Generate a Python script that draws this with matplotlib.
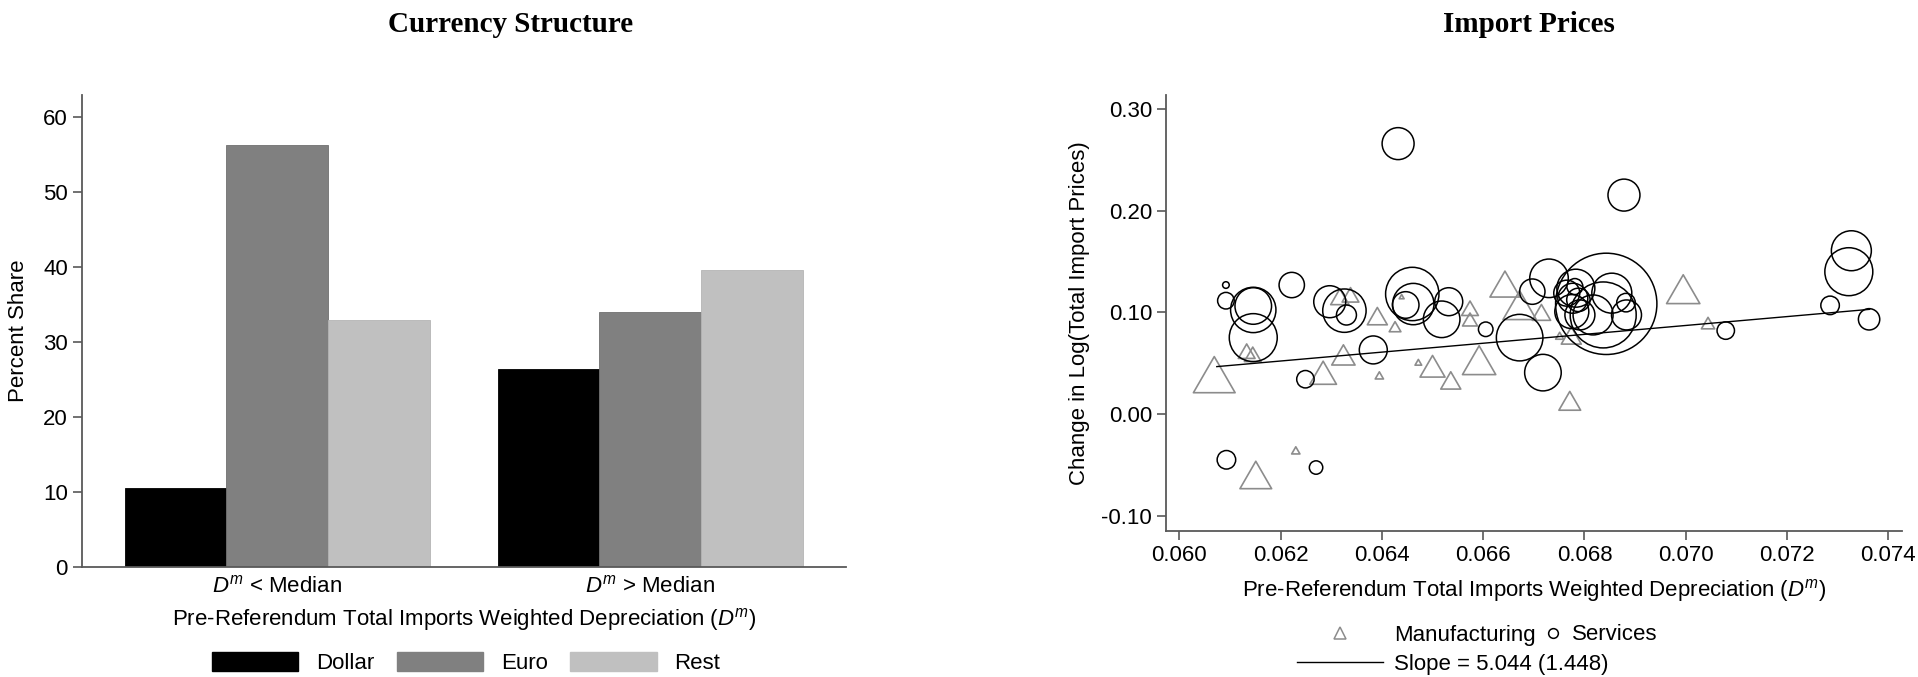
import matplotlib
matplotlib.use("Agg")
import matplotlib.pyplot as plt
from matplotlib.lines import Line2D
from matplotlib.patches import Patch
from matplotlib.path import Path
from matplotlib.ticker import FormatStrFormatter
import numpy as np

plt.rcParams['font.family'] = ['Liberation Sans', 'DejaVu Sans']
plt.rcParams['mathtext.fontset'] = 'custom'
plt.rcParams['mathtext.rm'] = 'Liberation Sans'
plt.rcParams['mathtext.it'] = 'Liberation Sans:italic'
plt.rcParams['axes.unicode_minus'] = False

# ---- left panel data: currency shares (percent)
groups = [r"$D^{m}$ < Median", r"$D^{m}$ > Median"]
currencies = ["Dollar", "Euro", "Rest"]
dollar_share = [10.6, 26.4]
euro_share = [56.3, 34.0]
rest_share = [33.0, 39.6]

# ---- right panel data: manufacturing (triangles)
manu_x = [0.06069, 0.06151, 0.06133, 0.06145, 0.06230, 0.06284, 0.06324, 0.06317,
          0.06338, 0.06391, 0.06426, 0.06395, 0.06439, 0.06472, 0.06500, 0.06536,
          0.06592, 0.06574, 0.06574, 0.06643, 0.06672, 0.06715, 0.06771, 0.06995,
          0.07044, 0.06751, 0.06774]
manu_y = [0.033, -0.0642, 0.0596, 0.0565, -0.0367, 0.037, 0.055, 0.1129,
          0.115, 0.0936, 0.0844, 0.037, 0.1149, 0.0501, 0.0436, 0.0304,
          0.0484, 0.1018, 0.091, 0.1237, 0.1025, 0.0975, 0.0101, 0.1182,
          0.0877, 0.076, 0.0746]
manu_w = [4.35, 2.51, 0.70, 0.70, 0.17, 1.78, 1.36, 0.84,
          0.70, 1.0, 0.34, 0.17, 0.06, 0.11, 1.56, 1.0,
          2.77, 0.70, 0.56, 2.25, 2.77, 0.84, 1.18, 2.77,
          0.44, 0.16, 1.0]

# services (circles)
serv_x = [0.06432, 0.06092, 0.06092, 0.06146, 0.06146, 0.06146, 0.06222, 0.06093,
          0.06249, 0.06270, 0.06297, 0.06326, 0.06330, 0.06383, 0.06460, 0.06447,
          0.06462, 0.06532, 0.06518, 0.06605, 0.06672, 0.06718, 0.06697, 0.06730,
          0.06878, 0.07327, 0.07322, 0.07285, 0.07362, 0.07079,
          0.06843, 0.06837, 0.06854, 0.06783, 0.06781, 0.06777, 0.06775, 0.06791,
          0.06817, 0.06882, 0.06883, 0.06765, 0.06788]
serv_y = [0.266, 0.127, 0.1116, 0.1064, 0.1025, 0.0753, 0.127, -0.0448,
          0.0344, -0.0524, 0.1106, 0.1018, 0.0975, 0.0632, 0.1182, 0.1074,
          0.1083, 0.1106, 0.0933, 0.0835, 0.0753, 0.0409, 0.1205, 0.1336,
          0.2154, 0.1607, 0.1401, 0.1070, 0.0933, 0.0822,
          0.1085, 0.0976, 0.119, 0.1239, 0.1255, 0.114, 0.1009, 0.0976,
          0.0976, 0.1097, 0.0976, 0.119, 0.1124]
serv_w = [2.56, 0.11, 0.69, 3.35, 5.15, 5.76, 1.61, 0.86,
          0.76, 0.45, 2.56, 4.71, 1.0, 1.96, 7.13, 1.77,
          4.28, 1.96, 3.35, 0.53, 5.43, 3.35, 1.61, 3.72,
          2.56, 4.0, 5.76, 0.86, 1.14, 0.76,
          25.7, 10.9, 4.0, 3.61, 0.64, 2.25, 2.89, 2.25,
          4.0, 0.86, 2.25, 1.69, 1.37]

# fitted line endpoints
fit_x = [0.06074, 0.07363]
fit_y = [0.0468, 0.1031]
slope_label = "Slope = 5.044 (1.448)"

W, H = 1918, 677
fig = plt.figure(figsize=(W / 100, H / 100), dpi=100)

spine_col = "#595959"
fs = 16

def style_axes(ax):
    for s in ["top", "right"]:
        ax.spines[s].set_visible(False)
    for s in ["left", "bottom"]:
        ax.spines[s].set_color(spine_col)
        ax.spines[s].set_linewidth(1.3)
    ax.tick_params(colors=spine_col, labelcolor="black", labelsize=fs,
                   length=6.5, width=1.2, direction="out")

# ---- left panel
ax1 = fig.add_axes([81.7 / W, 1 - 567 / H, (846 - 81.7) / W, (567 - 95) / H])
style_axes(ax1)
bw = 0.2727
xpos = np.arange(len(groups))
ax1.bar(xpos - bw, dollar_share, bw, color="#000000", edgecolor="#000000", lw=0.6)
ax1.bar(xpos, euro_share, bw, color="#808080", edgecolor="#707070", lw=0.6)
ax1.bar(xpos + bw, rest_share, bw, color="#c0c0c0", edgecolor="#b4b4b4", lw=0.6)
ax1.set_xlim(-0.524, 1.525)
ax1.set_ylim(0, 62.98)
ax1.set_yticks([0, 10, 20, 30, 40, 50, 60])
ax1.set_xticks(xpos)
ax1.set_xticklabels(groups)
ax1.tick_params(axis="x", length=0, pad=6)
ax1.set_ylabel("Percent Share", fontsize=fs, labelpad=10)
ax1.set_xlabel(r"Pre-Referendum Total Imports Weighted Depreciation ($D^{m}$)",
               fontsize=fs, labelpad=6)
ax1.legend(handles=[Patch(facecolor=c, edgecolor=c) for c in ["#000000", "#808080", "#c0c0c0"]],
           labels=currencies, ncol=3, frameon=False, fontsize=fs,
           handlelength=3.9, handleheight=0.9, handletextpad=0.8, columnspacing=1.0,
           loc="center", bbox_to_anchor=(466 / W, 1 - 663 / H),
           bbox_transform=fig.transFigure, borderpad=0, borderaxespad=0)

# ---- right panel
ax2 = fig.add_axes([1166 / W, 1 - 530.7 / H, (1902 - 1166) / W, (530.7 - 95) / H])
style_axes(ax2)
tri = Path([(0, 0.577), (-0.5, -0.289), (0.5, -0.289), (0, 0.577)],
           [Path.MOVETO, Path.LINETO, Path.LINETO, Path.CLOSEPOLY])
ax2.scatter(manu_x, manu_y, s=np.array(manu_w) * 276, marker=tri,
            facecolors="none", edgecolors="#8c8c8c", linewidths=1.2)
ax2.scatter(serv_x, serv_y, s=np.array(serv_w) * 207, marker="o",
            facecolors="none", edgecolors="black", linewidths=1.1)
ax2.plot(fit_x, fit_y, color="black", lw=1.0)
ax2.set_xlim(0.059737, 0.07427)
ax2.set_ylim(-0.1145, 0.3138)
ax2.set_xticks(np.arange(0.060, 0.0741, 0.002))
ax2.set_yticks([-0.10, 0.0, 0.10, 0.20, 0.30])
ax2.xaxis.set_major_formatter(FormatStrFormatter("%.3f"))
ax2.yaxis.set_major_formatter(FormatStrFormatter("%.2f"))
ax2.set_ylabel("Change in Log(Total Import Prices)", fontsize=fs, labelpad=8)
ax2.set_xlabel(r"Pre-Referendum Total Imports Weighted Depreciation ($D^{m}$)",
               fontsize=fs, labelpad=8)

leg_a = ax2.legend(handles=[Line2D([], [], ls="none", marker="^", ms=8, mfc="none",
                                   mec="#8c8c8c", mew=1.1),
                            Line2D([], [], color="black", lw=1.0)],
                   labels=["Manufacturing", slope_label], frameon=False, fontsize=fs,
                   handlelength=3.85, handletextpad=0.5, labelspacing=0.35,
                   loc="center left", bbox_to_anchor=(1297 / W, 1 - 650 / H),
                   bbox_transform=fig.transFigure, borderpad=0, borderaxespad=0)
ax2.add_artist(leg_a)
ax2.legend(handles=[Line2D([], [], ls="none", marker="o", ms=7, mfc="none",
                           mec="black", mew=1.1)],
           labels=["Services"], frameon=False, fontsize=fs,
           handlelength=0.8, handletextpad=0.45,
           loc="center left", bbox_to_anchor=(1544 / W, 1 - 635 / H),
           bbox_transform=fig.transFigure, borderpad=0, borderaxespad=0)

# ---- titles
fig.text(511 / W, 1 - 24 / H, "Currency Structure", ha="center", va="center",
         family=["Liberation Serif", "DejaVu Serif"], fontweight="bold", fontsize=21)
fig.text(1529 / W, 1 - 24 / H, "Import Prices", ha="center", va="center",
         family=["Liberation Serif", "DejaVu Serif"], fontweight="bold", fontsize=21)

fig.savefig("out.png", dpi=100)
